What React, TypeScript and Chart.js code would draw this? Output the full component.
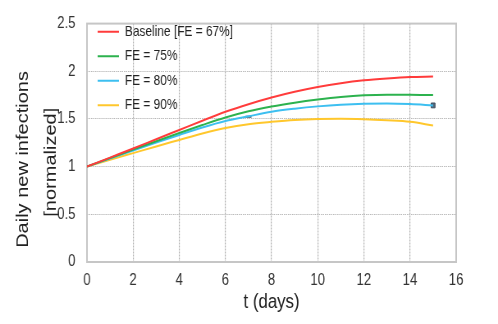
import React, { useEffect, useRef } from 'react';
import { Chart, registerables } from 'chart.js';

Chart.register(...registerables);

const days = [0, 1, 2, 3, 4, 5, 6, 7, 8, 9, 10, 11, 12, 13, 14, 15];
const baseline = [1, 1.095, 1.19, 1.288, 1.385, 1.482, 1.575, 1.655, 1.725, 1.785, 1.835, 1.875, 1.905, 1.925, 1.94, 1.945];
const fe75 = [1, 1.09, 1.18, 1.267, 1.352, 1.436, 1.515, 1.58, 1.63, 1.67, 1.703, 1.73, 1.748, 1.755, 1.755, 1.75];
const fe80 = [1, 1.085, 1.17, 1.252, 1.332, 1.41, 1.478, 1.528, 1.575, 1.607, 1.632, 1.65, 1.66, 1.662, 1.656, 1.642];
const fe90 = [1, 1.072, 1.142, 1.212, 1.28, 1.348, 1.405, 1.445, 1.47, 1.49, 1.5, 1.502, 1.497, 1.486, 1.47, 1.432];
const markerDays = [7, 15];
const markerValues = [1.523, 1.642];
const seriesLabels = ['Baseline [FE = 67%]', 'FE = 75%', 'FE = 80%', 'FE = 90%'];
const seriesColors = ['#ff3b3b', '#2cb24e', '#3dbff0', '#ffc72c'];
const xMin = 0;
const xMax = 16;
const xStep = 2;
const yMin = 0;
const yMax = 2.5;
const yStep = 0.5;
const yTitle = ['Daily new infections      ', '[normalized]       '];
const xTitle = 't (days)';

// The reference is drawn with tall, narrow lettering: render on a wider canvas
// and let CSS compress it horizontally to 498px.
const CSS_W = 498;
const CSS_H = 324;
const CANVAS_W = 607;

const font = "'Liberation Sans', Arial, Helvetica, sans-serif";

const frame = {
  id: 'frame',
  beforeDatasetsDraw(chart: any) {
    const { ctx, chartArea: a } = chart;
    ctx.save();
    ctx.strokeStyle = '#c6c6c6';
    ctx.lineWidth = 2;
    ctx.strokeRect(a.left, a.top, a.right - a.left, a.bottom - a.top);
    ctx.restore();
  },
};

const legendPlace = {
  id: 'legendPlace',
  afterLayout(chart: any) {
    const l = chart.legend;
    const a = chart.chartArea;
    if (l && a) {
      const h = l.height;
      const w = l.width;
      l.top = a.top - 9;
      l.bottom = l.top + h;
      l.left = a.left + 3;
      l.right = l.left + w;
    }
  },
};

export default function App() {
  const ref = useRef<HTMLCanvasElement | null>(null);

  useEffect(() => {
    document.body.style.margin = '0';
    const canvas = ref.current;
    if (!canvas) return;
    const series = [baseline, fe75, fe80, fe90];
    const datasets: any[] = series.map((vals, i) => ({
      label: seriesLabels[i],
      data: days.map((d, j) => ({ x: d, y: vals[j] })),
      borderColor: seriesColors[i],
      backgroundColor: seriesColors[i],
      borderWidth: 2,
      pointRadius: 0,
      tension: 0.4,
      cubicInterpolationMode: 'monotone',
      fill: false,
    }));
    datasets.push({
      label: 'markers',
      data: markerDays.map((d, j) => ({ x: d, y: markerValues[j] })),
      showLine: false,
      pointStyle: ['line', 'rect'],
      pointRadius: [3.6, 3.4],
      borderColor: '#3e4e5e',
      backgroundColor: '#56677a',
      borderWidth: [2, 1],
    });

    const chart = new Chart(canvas, {
      type: 'line',
      data: { datasets },
      plugins: [frame, legendPlace],
      options: {
        animation: false,
        responsive: false,
        devicePixelRatio: 1,
        layout: { padding: { left: 0, top: 17, right: 51, bottom: 0 } },
        plugins: {
          tooltip: { enabled: false },
          legend: {
            position: 'chartArea',
            align: 'start',
            labels: {
              usePointStyle: true,
              pointStyle: 'line',
              pointStyleWidth: 26,
              padding: 10,
              color: '#222',
              font: { family: font, size: 14.5 },
              filter: (item: any) => item.datasetIndex < 4,
            },
          },
        },
        scales: {
          x: {
            type: 'linear',
            min: xMin,
            max: xMax,
            afterFit: (s: any) => { s.height = 62; },
            ticks: {
              stepSize: xStep,
              padding: 9,
              color: '#333',
              font: { family: font, size: 16 },
            },
            grid: { color: '#b2b2b2', lineWidth: 1.2, drawTicks: false },
            border: { display: false, dash: [2, 1] },
            title: {
              display: true,
              text: xTitle,
              color: '#222',
              font: { family: font, size: 20.5, lineHeight: 1.2 },
              padding: { top: 0, bottom: 9.7 },
            },
          },
          y: {
            type: 'linear',
            min: yMin,
            max: yMax,
            afterFit: (s: any) => { s.width = 106; },
            ticks: {
              stepSize: yStep,
              padding: 14,
              color: '#333',
              font: { family: font, size: 16 },
              callback: (v: any) => String(Number(v)),
            },
            grid: { color: '#b8b8b8', lineWidth: 1, drawTicks: false },
            border: { display: false, dash: [1.5, 1] },
            title: {
              display: true,
              text: yTitle,
              color: '#222',
              font: { family: font, size: 20, lineHeight: 1.7 },
              padding: { top: 11.5, bottom: 0 },
            },
          },
        },
      },
    } as any);
    return () => chart.destroy();
  }, []);

  return (
    <canvas
      ref={ref}
      width={CANVAS_W}
      height={CSS_H}
      style={{ display: 'block', width: CSS_W + 'px', height: CSS_H + 'px' }}
    />
  );
}
